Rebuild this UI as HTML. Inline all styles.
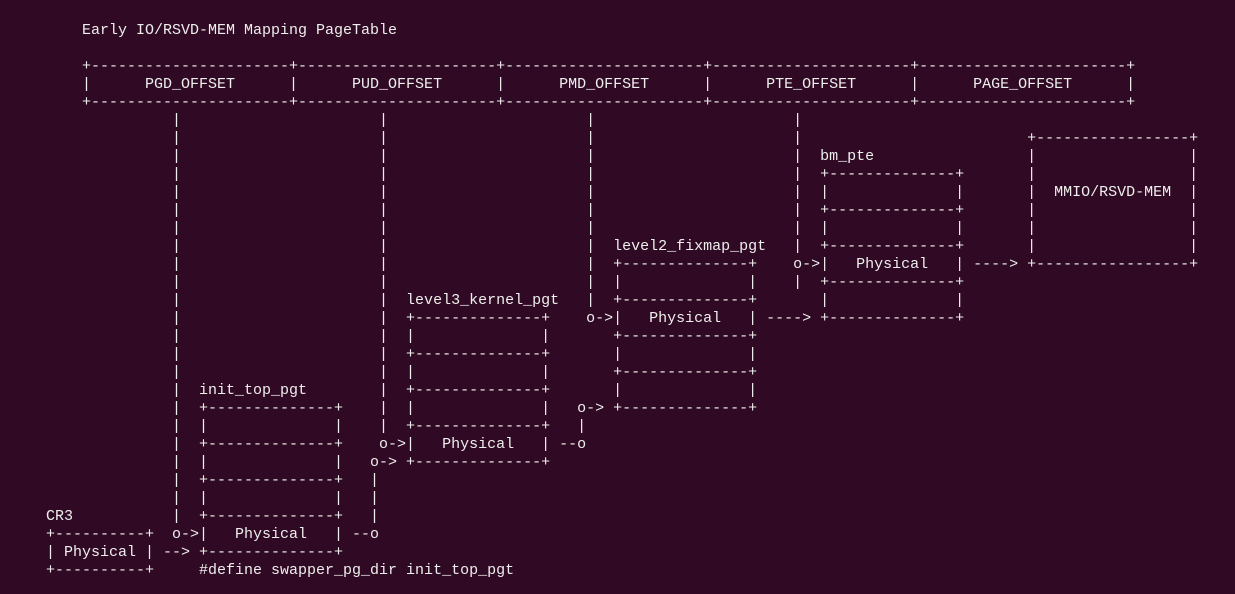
<!DOCTYPE html>
<html><head><meta charset="utf-8"><style>
html,body{margin:0;padding:0;background:#300a24;width:1235px;height:594px;overflow:hidden}
pre{position:absolute;left:46px;top:22px;margin:0;font-family:"Liberation Mono",monospace;font-size:15px;line-height:18px;color:#eeeeec;letter-spacing:0}
</style></head><body><pre>    Early IO/RSVD-MEM Mapping PageTable

    +----------------------+----------------------+----------------------+----------------------+-----------------------+
    |      PGD_OFFSET      |      PUD_OFFSET      |      PMD_OFFSET      |      PTE_OFFSET      |      PAGE_OFFSET      |
    +----------------------+----------------------+----------------------+----------------------+-----------------------+
              |                      |                      |                      |
              |                      |                      |                      |                         +-----------------+
              |                      |                      |                      |  bm_pte                 |                 |
              |                      |                      |                      |  +--------------+       |                 |
              |                      |                      |                      |  |              |       |  MMIO/RSVD-MEM  |
              |                      |                      |                      |  +--------------+       |                 |
              |                      |                      |                      |  |              |       |                 |
              |                      |                      |  level2_fixmap_pgt   |  +--------------+       |                 |
              |                      |                      |  +--------------+    o-&gt;|   Physical   | ----&gt; +-----------------+
              |                      |                      |  |              |    |  +--------------+
              |                      |  level3_kernel_pgt   |  +--------------+       |              |
              |                      |  +--------------+    o-&gt;|   Physical   | ----&gt; +--------------+
              |                      |  |              |       +--------------+
              |                      |  +--------------+       |              |
              |                      |  |              |       +--------------+
              |  init_top_pgt        |  +--------------+       |              |
              |  +--------------+    |  |              |   o-&gt; +--------------+
              |  |              |    |  +--------------+   |
              |  +--------------+    o-&gt;|   Physical   | --o
              |  |              |   o-&gt; +--------------+
              |  +--------------+   |
              |  |              |   |
CR3           |  +--------------+   |
+----------+  o-&gt;|   Physical   | --o
| Physical | --&gt; +--------------+
+----------+     #define swapper_pg_dir init_top_pgt</pre></body></html>
